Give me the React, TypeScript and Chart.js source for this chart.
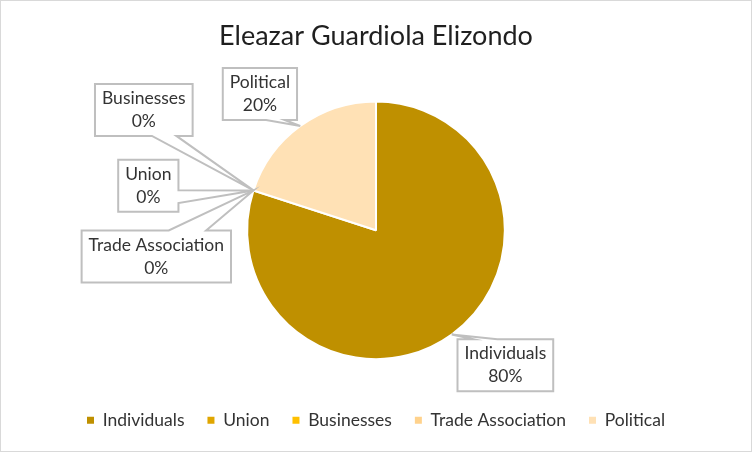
import React, { useEffect, useRef } from "react";
import { Chart, registerables } from "chart.js";

Chart.register(...registerables);

const TITLE = "Eleazar Guardiola Elizondo";
const CATEGORIES = ["Individuals", "Union", "Businesses", "Trade Association", "Political"];
const VALUES = [80, 0, 0, 0, 20];
const COLORS = ["#BF9000", "#E0A600", "#FFC000", "#FFD28C", "#FFE1B5"];

// callout box centres, in units of the pie radius, relative to the pie centre
const LABEL_OFFSETS: [number, number][] = [
  [1.004, 1.047],
  [-1.767, -0.345],
  [-1.802, -0.934],
  [-1.705, 0.203],
  [-0.901, -1.057],
];

const FONT = "Lato, 'Open Sans', sans-serif";

function calloutPath(ctx: CanvasRenderingContext2D, bx: number, by: number, w: number, h: number, tx: number, ty: number) {
  const cx = bx + w / 2;
  const cy = by + h / 2;
  const dx = tx - cx;
  const dy = ty - cy;
  const nx = Math.abs(dx) / (w / 2);
  const ny = Math.abs(dy) / (h / 2);
  const inside = nx <= 1 && ny <= 1;
  const vertical = ny >= nx * 0.95;
  const xa = bx + (w * (dx > 0 ? 7 : 2)) / 12;
  const xb = bx + (w * (dx > 0 ? 10 : 5)) / 12;
  const ya = by + (h * (dy > 0 ? 7 : 2)) / 12;
  const yb = by + (h * (dy > 0 ? 10 : 5)) / 12;
  ctx.beginPath();
  ctx.moveTo(bx, by);
  if (!inside && vertical && dy < 0) {
    ctx.lineTo(xa, by);
    ctx.lineTo(tx, ty);
    ctx.lineTo(xb, by);
  }
  ctx.lineTo(bx + w, by);
  if (!inside && !vertical && dx > 0) {
    ctx.lineTo(bx + w, ya);
    ctx.lineTo(tx, ty);
    ctx.lineTo(bx + w, yb);
  }
  ctx.lineTo(bx + w, by + h);
  if (!inside && vertical && dy > 0) {
    ctx.lineTo(xb, by + h);
    ctx.lineTo(tx, ty);
    ctx.lineTo(xa, by + h);
  }
  ctx.lineTo(bx, by + h);
  if (!inside && !vertical && dx < 0) {
    ctx.lineTo(bx, yb);
    ctx.lineTo(tx, ty);
    ctx.lineTo(bx, ya);
  }
  ctx.closePath();
}

const calloutPlugin = {
  id: "callouts",
  afterDatasetsDraw(chart: any) {
    const ctx: CanvasRenderingContext2D = chart.ctx;
    const meta = chart.getDatasetMeta(0);
    const data: number[] = chart.data.datasets[0].data;
    const total = data.reduce((a, b) => a + b, 0);
    const fontSize = 17.5;
    const lineH = 23;
    const padX = 7;
    const padY = 3;
    ctx.save();
    ctx.font = `${fontSize}px ${FONT}`;
    meta.data.forEach((arc: any, i: number) => {
      const p = arc.getProps(["x", "y", "startAngle", "endAngle", "outerRadius"], true);
      const mid = (p.startAngle + p.endAngle) / 2;
      const tx = p.x + Math.cos(mid) * p.outerRadius;
      const ty = p.y + Math.sin(mid) * p.outerRadius;
      const lines = [chart.data.labels[i], `${Math.round((data[i] / total) * 100)}%`];
      const tw = Math.max(...lines.map((l: string) => ctx.measureText(l).width));
      const w = tw + padX * 2;
      const h = lineH * lines.length + padY * 2;
      const [ox, oy] = LABEL_OFFSETS[i];
      const cx = p.x + ox * p.outerRadius;
      const cy = p.y + oy * p.outerRadius;
      const bx = cx - w / 2;
      const by = cy - h / 2;
      ctx.fillStyle = "#ffffff";
      ctx.fillRect(bx, by, w, h);
      calloutPath(ctx, bx, by, w, h, tx, ty);
      ctx.lineWidth = 2;
      ctx.strokeStyle = "#BFBFBF";
      ctx.lineJoin = "miter";
      ctx.stroke();
      ctx.fillStyle = "#333333";
      ctx.textAlign = "center";
      ctx.textBaseline = "middle";
      lines.forEach((l: string, k: number) => {
        ctx.fillText(l, cx, by + padY + lineH * (k + 0.5));
      });
    });
    ctx.restore();
  },
};

export default function App() {
  const ref = useRef<HTMLCanvasElement | null>(null);
  useEffect(() => {
    if (!ref.current) return;
    const chart = new Chart(ref.current, {
      type: "pie",
      data: {
        labels: CATEGORIES,
        datasets: [
          {
            data: VALUES,
            backgroundColor: COLORS,
            borderColor: "#ffffff",
            borderWidth: 2,
            hoverBorderWidth: 2,
            hoverOffset: 0,
          },
        ],
      },
      options: {
        responsive: false,
        animation: false,
        events: [],
        layout: { padding: { top: 0, bottom: 12, left: 0, right: 0 } },
        plugins: {
          tooltip: { enabled: false },
          title: {
            display: true,
            text: TITLE,
            color: "#1f1f1f",
            font: { family: FONT, size: 27, weight: "normal" },
            padding: { top: 19, bottom: 48 },
          },
          legend: {
            position: "bottom",
            title: { display: true, text: "", font: { size: 12 }, padding: { top: 14, bottom: 0 } },
            labels: {
              color: "#333333",
              font: { family: FONT, size: 17.5 },
              boxWidth: 7,
              boxHeight: 7,
              padding: 23,
              generateLabels(chart: any) {
                const items = Chart.overrides.pie.plugins.legend.labels.generateLabels(chart);
                return items.map((it: any) => ({ ...it, lineWidth: 0, strokeStyle: it.fillStyle }));
              },
            },
          },
        },
      },
      plugins: [calloutPlugin],
    });
    return () => chart.destroy();
  }, []);
  return (
    <div
      style={{
        position: "fixed",
        left: 0,
        top: 0,
        width: 752,
        height: 452,
        boxSizing: "border-box",
        border: "1px solid #D9D9D9",
        background: "#ffffff",
      }}
    >
      <canvas ref={ref} width={750} height={450} style={{ display: "block" }} />
    </div>
  );
}
